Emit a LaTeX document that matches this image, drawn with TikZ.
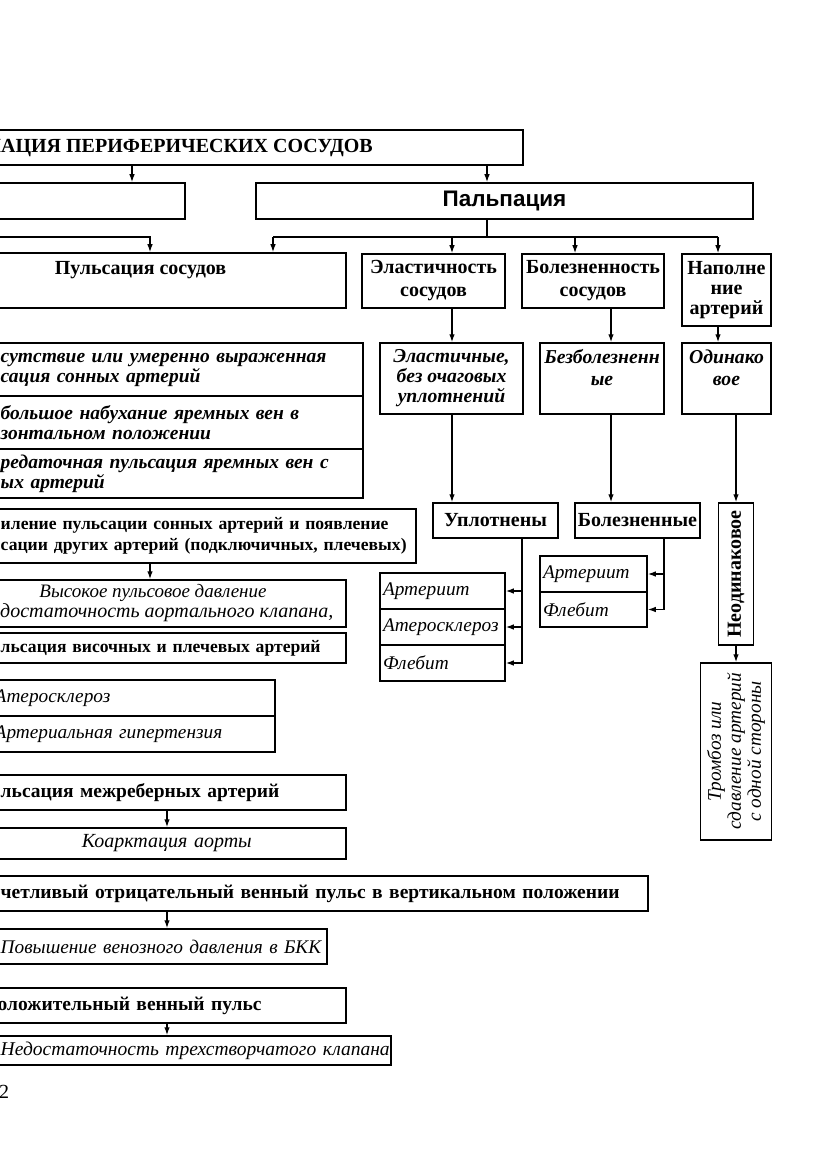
\documentclass[tikz,border=0pt]{standalone}
\usepackage{fontspec}
\setmainfont{Liberation Serif}
\newfontfamily\palpfont{Liberation Sans}
\usepackage{tikz}
\usetikzlibrary{positioning, arrows.meta}

\begin{document}
\begin{tikzpicture}[x=1pt, y=-1pt, >=Latex,
      box/.style={draw, line width=1.5pt, inner sep=0pt, align=center},
      span/.style n args={4}{minimum width=#3-#1, minimum height=#4-#2,
        at={({(#1+#3)/2},{(#2+#4)/2})}},
      cut/.style n args={3}{box, anchor=west, inner xsep=3pt, align=left,
        text width=#2, minimum height=#3-#1, at={(-3,{(#1+#3)/2})}},
      hb/.style={font=\fontsize{20}{23}\selectfont\bfseries},
      hbs/.style={font=\fontsize{19.5}{23}\selectfont\bfseries},
      hbx/.style={font=\fontsize{17.6}{21}\selectfont\bfseries},
      bi/.style={font=\fontsize{19.5}{20}\selectfont\bfseries\itshape},
      it/.style={font=\fontsize{19.3}{20}\selectfont\itshape},
      row/.style={box, it, align=left, inner xsep=3pt},
      arr/.style={->, >={Latex[length=8pt,width=5.5pt]}, line width=1.3pt},
      line/.style={line width=1.3pt}]
  \useasboundingbox (0,0) rectangle (831,1174);
  \clip (0,0) rectangle (831,1174);

  % top level
  \node[cut={130}{519pt}{165}] (title) {};
  \node[hb, anchor=east, inner sep=0pt] (titleT) at (373,148) {ПАЦИЯ ПЕРИФЕРИЧЕСКИХ СОСУДОВ};
  \node[cut={183}{181pt}{219}] (osm) {};
  \node[box, span={256}{183}{753}{219}, font=\palpfont\fontsize{22.5}{25}\selectfont\bfseries] (palp) {Пальпация};
  \draw[arr] (132,0 |- title.south) -- (132,0 |- osm.north);
  \draw[arr] (487,0 |- title.south) -- (487,0 |- palp.north);

  % second level
  \node[cut={253}{342pt}{308}] (puls) {};
  \node[hb] (pulsT) at (140.5,270) {Пульсация сосудов};
  \node[box, hb, span={362}{254}{505}{308}] (elast) {Эластичность\\сосудов};
  \node[box, hb, span={522}{254}{664}{308}] (bolez) {Болезненность\\сосудов};
  \node[box, span={682}{254}{771}{326}, font=\fontsize{20}{20}\selectfont\bfseries] (napol) {Наполне\\ние\\артерий};
  \draw[arr] (-5,237) -| (150,0 |- puls.north);
  \draw[line] (487,0 |- palp.south) -- (487,237);
  \draw[line] (273,237) -- (718,237);
  \foreach \xx/\nd in {273/puls, 452/elast, 575/bolez, 718/napol}
    \draw[arr] (\xx,237) -- (\xx,0 |- \nd.north);

  % inspection rows
  \node[cut={343}{359pt}{396}, bi] (rowA) {сутствие или умеренно выраженная\\сация сонных артерий};
  \node[cut={396}{359pt}{449}, bi] (rowB) {большое набухание яремных вен в\\зонтальном положении};
  \node[cut={449}{359pt}{498}, bi] (rowC) {редаточная пульсация яремных вен с\\ых артерий};

  % palpation results
  \node[box, span={380}{343}{523}{414}, font=\fontsize{19.7}{20}\selectfont\bfseries\itshape] (elastich) {Эластичные,\\без очаговых\\уплотнений};
  \node[box, span={540}{343}{664}{414}, font=\fontsize{19.7}{22}\selectfont\bfseries\itshape] (bezbol) {Безболезненн\\ые\\\mbox{}};
  \node[box, span={682}{343}{771}{414}, font=\fontsize{19.7}{22}\selectfont\bfseries\itshape] (odin) {Одинако\\вое\\\mbox{}};
  \draw[arr] (452,0 |- elast.south) -- (452,0 |- elastich.north);
  \draw[arr] (611,0 |- bolez.south) -- (611,0 |- bezbol.north);
  \draw[arr] (718,0 |- napol.south) -- (718,0 |- odin.north);

  \node[box, hb, span={433}{503}{558}{538}] (uplot) {Уплотнены};
  \node[box, hb, span={575}{503}{700}{538}] (bolen) {Болезненные};
  \node[box, hb, rotate=90, minimum width=142, minimum height=35] (neod) at (736,574) {Неодинаковое};
  \draw[arr] (452,0 |- elastich.south) -- (452,0 |- uplot.north);
  \draw[arr] (611,0 |- bezbol.south) -- (611,0 |- bolen.north);
  \draw[arr] (neod.east |- odin.south) -- (neod.east);

  \node[row, text width=119pt, minimum height=36] (artA) at (442.5,591) {Артериит};
  \node[row, text width=119pt, minimum height=36] (ater) at (442.5,627) {Атеросклероз};
  \node[row, text width=119pt, minimum height=36] (fleA) at (442.5,663) {Флебит};
  \foreach \nd in {artA, ater, fleA}
    \draw[arr] (522,0 |- uplot.south) |- (\nd.east);
  \node[row, text width=101pt, minimum height=36] (artB) at (593.5,574) {Артериит};
  \node[row, text width=101pt, minimum height=35] (fleB) at (593.5,609.5) {Флебит};
  \foreach \nd in {artB, fleB}
    \draw[arr] (664,0 |- bolen.south) |- (\nd.east);

  \node[box, it, rotate=90, minimum width=177, minimum height=71] (tromb) at (736,751.5)
    {Тромбоз или\\сдавление артерий\\с одной стороны};
  \draw[arr] (neod.west) -- (tromb.east);

  % left column
  \node[cut={509}{412pt}{563}, hbx] (usil)
    {иление пульсации сонных артерий и появление\\сации других артерий (подключичных, плечевых)};
  \node[cut={580}{342pt}{627}] (vys) {};
  \node[font=\fontsize{19}{20}\selectfont\itshape] (vysA) at (153,593) {Высокое пульсовое давление};
  \node[font=\fontsize{20}{20}\selectfont\itshape, anchor=west, inner sep=0pt] (vysB) at (0,613) {достаточность аортального клапана,};
  \draw[arr] (150,0 |- usil.south) -- (150,0 |- vys.north);
  \node[cut={633}{342pt}{663}, hbx] (visoch) {льсация височных и плечевых артерий};
  \node[cut={680}{271pt}{716}, it] (aterL) {\hspace*{-6pt}Атеросклероз};
  \node[cut={716}{271pt}{752}, it] (gipert) {\hspace*{-6pt}Артериальная гипертензия};

  \node[cut={775}{342pt}{810}, hbs] (mezh) {льсация межреберных артерий};
  \node[cut={828}{342pt}{859}, align=center, font=\fontsize{20}{20}\selectfont\itshape] (koarkt) {\hspace*{-10pt}Коарктация аорты};
  \draw[arr] (167,0 |- mezh.south) -- (167,0 |- koarkt.north);

  \node[cut={876}{644pt}{911}, hbs] (otch) {четливый отрицательный венный пульс в вертикальном положении};
  \node[cut={929}{323pt}{964}, it] (povysh) {Повышение венозного давления в БКК};
  \draw[arr] (167,0 |- otch.south) -- (167,0 |- povysh.north);

  \node[cut={988}{342pt}{1023}, hbs] (polozh) {\hspace*{-3pt}оложительный венный пульс};
  \node[cut={1036}{387pt}{1065}, font=\fontsize{19.5}{20}\selectfont\itshape] (nedost) {\mbox{Недостаточность трехстворчатого клапана}};
  \draw[arr] (167,0 |- polozh.south) -- (167,0 |- nedost.north);

  \node[font=\fontsize{20}{23}\selectfont, anchor=west, inner sep=0pt] (page) at (-1,1092) {2};
\end{tikzpicture}
\end{document}
